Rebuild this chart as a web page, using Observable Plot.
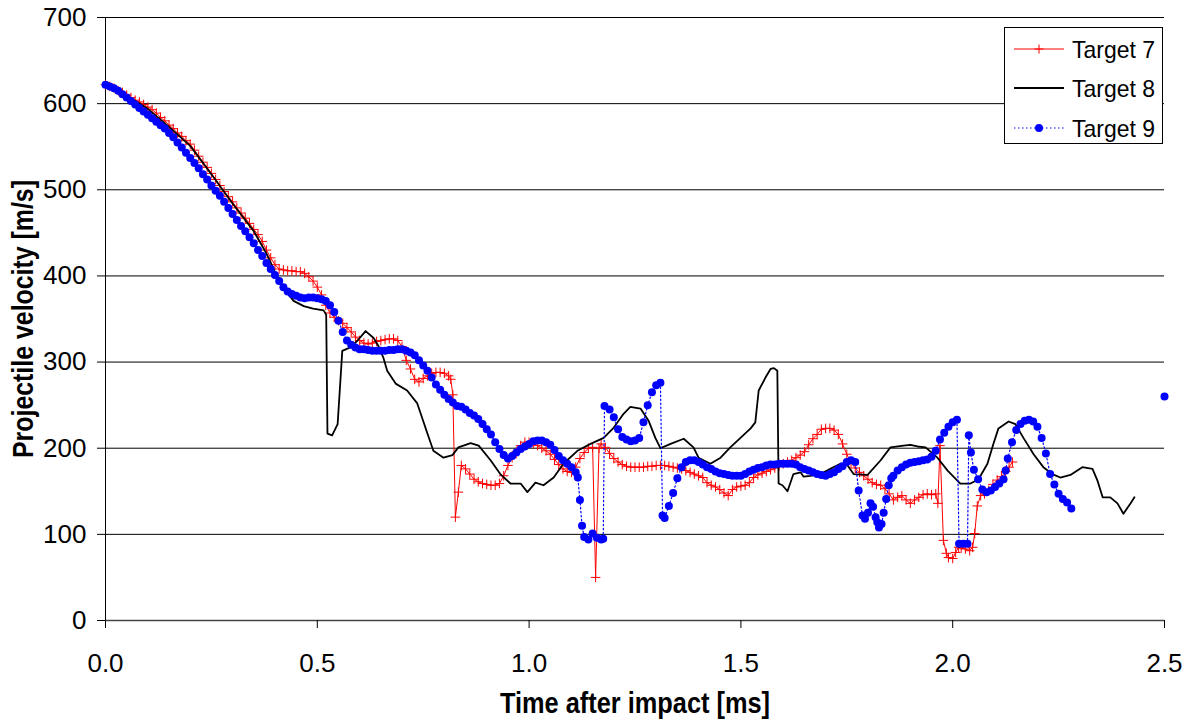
<!DOCTYPE html>
<html>
<head>
<meta charset="utf-8">
<script src="https://cdn.jsdelivr.net/npm/d3@7"></script>
<script src="https://cdn.jsdelivr.net/npm/@observablehq/plot@0.6"></script>
<style>
  html, body { margin: 0; padding: 0; background: #fff; }
  #wrap { position: relative; width: 1190px; height: 725px; }
  #chart svg { font-family: "Liberation Sans", Arial, sans-serif; }
  #chart g[aria-label="y-axis tick label"] text,
  #chart g[aria-label="x-axis tick label"] text { font-size: 26px; fill: #000; }
  #chart g[aria-label="y-axis label"] text,
  #chart g[aria-label="x-axis label"] text { font-size: 29px; font-weight: bold; fill: #000; }
  #legend { position: absolute; left: 1004px; top: 27px; width: 157px; height: 115px; border: 1px solid #000; background: #fff; }
  #legend text { font-family: "Liberation Sans", Arial, sans-serif; font-size: 24px; }
</style>
</head>
<body>
<div id="wrap">
  <div id="chart"></div>
  <div id="legend"></div>
</div>
<script>
// ---- Data ----
const xTicks = [0, 0.5, 1.0, 1.5, 2.0, 2.5];
const yTicks = [0, 100, 200, 300, 400, 500, 600, 700];
const seriesNames = ["Target 7", "Target 8", "Target 9"];

// Target 7 (red, + markers)
const t7 = [0,0.01,0.02,0.03,0.04,0.05,0.06,0.07,0.08,0.09,0.10,0.11,0.12,0.13,0.14,0.15,0.16,0.17,0.18,0.19,
0.20,0.21,0.22,0.23,0.24,0.25,0.26,0.27,0.28,0.29,0.30,0.31,0.32,0.33,0.34,0.35,0.36,0.37,0.38,0.39,
0.40,0.41,0.42,0.43,0.44,0.45,0.46,0.47,0.48,0.49,0.50,0.51,0.52,0.53,0.54,0.55,0.56,0.57,0.58,0.59,
0.60,0.61,0.62,0.63,0.64,0.65,0.66,0.67,0.68,0.69,0.70,0.71,0.72,0.73,0.74,0.75,0.76,0.77,0.78,0.79,
0.80,0.81,0.815,0.82,0.826,0.833,0.84,0.85,0.86,0.87,0.88,0.89,0.90,0.91,0.92,0.93,0.94,0.95,0.96,0.97,
0.98,0.99,1.00,1.01,1.02,1.03,1.04,1.05,1.06,1.07,1.08,1.09,1.10,1.11,1.12,1.13,1.14,1.15,1.157,1.165,
1.17,1.18,1.19,1.20,1.21,1.22,1.23,1.24,1.25,1.26,1.27,1.28,1.29,1.30,1.31,1.32,1.33,1.34,1.35,1.36,
1.37,1.38,1.39,1.40,1.41,1.42,1.43,1.44,1.45,1.46,1.47,1.48,1.49,1.50,1.51,1.52,1.53,1.54,1.55,1.56,
1.57,1.58,1.59,1.60,1.61,1.62,1.63,1.64,1.65,1.66,1.67,1.68,1.69,1.70,1.71,1.72,1.73,1.74,1.75,1.76,
1.77,1.78,1.79,1.80,1.81,1.82,1.83,1.84,1.85,1.86,1.87,1.88,1.89,1.90,1.91,1.92,1.93,1.94,1.95,1.96,
1.965,1.97,1.978,1.985,1.99,2.00,2.007,2.014,2.02,2.03,2.04,2.047,2.052,2.058,2.066,2.075,2.085,2.095,2.105,2.115,
2.125,2.133,2.141];
const v7 = [622,620,618,615,613,610,607,604,602,599,596,593,589,584,580,575,571,566,562,557,
553,546,539,532,526,519,512,505,498,492,486,479,473,467,461,454,448,440,430,421,
413,408,407,406,406,405,405,403,399,394,387,378,366,357,352,348,345,340,335,329,
325,322,321,322,324,325,326,327,327,325,318,302,292,280,277,281,284,287,288,288,
287,284,280,262,120,149,180,176,170,164,161,159,158,157,157,159,168,180,189,196,
203,207,207,205,203,200,197,193,187,181,176,173,172,178,188,195,200,201,50,200,
205,201,194,188,184,181,179,178,178,178,178,179,179,180,180,180,179,178,177,176,
174,172,170,168,166,160,157,155,152,148,145,152,155,156,157,160,166,169,171,173,
175,177,179,182,184,186,189,192,196,204,211,216,222,223,223,221,216,205,193,183,
177,172,168,164,160,158,157,153,147,140,143,145,140,136,140,143,146,147,146,147,
136,203,93,78,73,72,79,85,84,83,81,85,101,133,145,147,151,158,163,167,
173,178,184];

// Target 8 (black line)
const t8 = [0,0.05,0.10,0.15,0.20,0.25,0.30,0.35,0.38,0.413,0.444,0.468,0.49,0.515,0.521,0.524,0.535,0.548,0.559,0.578,
0.595,0.614,0.633,0.645,0.656,0.665,0.685,0.712,0.736,0.76,0.774,0.798,0.819,0.833,0.862,0.881,0.909,0.932,0.956,0.98,
0.996,1.015,1.034,1.058,1.081,1.114,1.145,1.176,1.20,1.223,1.239,1.263,1.282,1.298,1.31,1.334,1.365,1.388,1.40,1.428,
1.452,1.475,1.499,1.523,1.534,1.542,1.558,1.57,1.578,1.586,1.589,1.598,1.61,1.624,1.641,1.648,1.664,1.688,1.711,1.735,
1.752,1.766,1.799,1.83,1.853,1.884,1.90,1.917,1.936,1.964,1.988,2.018,2.042,2.061,2.082,2.096,2.108,2.132,2.148,2.167,
2.191,2.214,2.235,2.254,2.278,2.306,2.33,2.342,2.354,2.372,2.389,2.403,2.42,2.429];
const v8 = [622,609,594,573,551,518,484,452,426,391,371,365,362,360,355,217,215,228,313,317,
325,336,328,318,305,290,275,267,252,217,197,189,192,201,206,203,186,170,159,159,
149,160,157,166,182,197,205,212,224,240,248,246,232,212,200,205,211,201,189,182,
189,201,212,223,230,267,282,292,293,290,159,157,150,170,172,167,168,170,176,182,
180,170,169,186,201,203,204,202,201,189,174,159,159,164,182,205,223,231,228,212,
193,178,170,166,169,178,176,162,143,143,136,124,136,143];

// Target 9 (blue, dotted line with dots)
const t9 = [0,0.01,0.02,0.03,0.04,0.05,0.06,0.07,0.08,0.09,0.10,0.11,0.12,0.13,0.14,0.15,0.16,0.17,0.18,0.19,
0.20,0.21,0.22,0.23,0.24,0.25,0.26,0.27,0.28,0.29,0.30,0.31,0.32,0.33,0.34,0.35,0.36,0.37,0.38,0.39,
0.40,0.41,0.42,0.43,0.44,0.45,0.46,0.47,0.48,0.49,0.50,0.51,0.52,0.53,0.54,0.55,0.56,0.57,0.58,0.59,
0.60,0.61,0.62,0.63,0.64,0.65,0.66,0.67,0.68,0.69,0.70,0.71,0.72,0.73,0.74,0.75,0.76,0.77,0.78,0.79,
0.80,0.81,0.82,0.83,0.84,0.85,0.86,0.87,0.88,0.89,0.90,0.91,0.92,0.93,0.94,0.95,0.96,0.97,0.98,0.99,
1.00,1.01,1.02,1.03,1.04,1.05,1.06,1.07,1.08,1.09,1.10,1.11,1.115,1.12,1.125,1.13,1.14,1.15,1.16,1.17,
1.175,1.178,1.19,1.20,1.21,1.22,1.23,1.24,1.25,1.26,1.27,1.28,1.29,1.30,1.31,1.315,1.32,1.33,1.34,1.35,
1.36,1.37,1.38,1.39,1.40,1.41,1.42,1.43,1.44,1.45,1.46,1.47,1.48,1.49,1.50,1.51,1.52,1.53,1.54,1.55,
1.56,1.57,1.58,1.59,1.60,1.61,1.62,1.63,1.64,1.65,1.66,1.67,1.68,1.69,1.70,1.71,1.72,1.73,1.74,1.75,
1.76,1.77,1.778,1.787,1.793,1.80,1.806,1.812,1.818,1.822,1.826,1.832,1.837,1.843,1.849,1.855,1.86,1.87,1.88,1.89,
1.90,1.91,1.92,1.93,1.94,1.95,1.96,1.97,1.98,1.99,2.00,2.01,2.015,2.025,2.035,2.038,2.043,2.05,2.06,2.07,
2.08,2.09,2.10,2.11,2.12,2.125,2.13,2.14,2.15,2.16,2.17,2.18,2.19,2.20,2.21,2.22,2.23,2.24,2.25,2.26,
2.27,2.28];
const v9 = [622,620,618,615,611,607,603,599,595,591,587,583,579,575,571,566,561,555,549,543,
537,531,525,518,512,505,499,493,486,479,472,465,458,452,445,438,430,423,415,408,
401,394,387,382,379,377,375,374,375,375,374,373,371,366,358,348,335,325,320,317,
315,315,314,313,313,313,313,314,314,315,315,313,311,308,302,296,290,282,274,268,
262,257,253,249,248,245,241,238,234,228,222,216,207,199,192,188,191,195,199,202,
205,208,209,209,207,204,198,191,186,182,178,172,166,140,110,97,94,101,96,94,
95,249,245,236,222,213,210,208,209,212,230,250,265,273,276,122,119,133,148,165,
178,184,186,186,184,181,178,176,173,171,170,169,168,168,168,170,173,175,177,178,
180,181,181,182,182,182,182,181,178,176,174,172,170,169,168,170,172,176,179,184,
186,184,151,122,118,125,136,132,120,114,108,112,125,141,157,165,168,174,178,181,
183,184,185,186,187,190,197,210,218,225,230,233,89,89,89,215,195,175,164,152,
149,151,155,159,164,174,188,207,221,228,232,233,231,225,212,194,170,158,147,141,
137,130];
// isolated Target 9 point at the right edge
const t9Extra = [2.5];
const v9Extra = [260];

// ---- Chart ----
const colors = {t7: "#ff0000", t8: "#000000", t9: "#0000ff"};

// thin "+" marker
const plusSymbol = {
  draw(context, size) {
    const r = Math.sqrt(size / Math.PI);
    context.moveTo(-r, 0); context.lineTo(r, 0);
    context.moveTo(0, -r); context.lineTo(0, r);
  }
};

const rows7 = t7.map((t, i) => ({t, v: v7[i]}));
const rows8 = t8.map((t, i) => ({t, v: v8[i]}));
const rows9 = t9.map((t, i) => ({t, v: v9[i]}));
const rows9x = t9Extra.map((t, i) => ({t, v: v9Extra[i]}));

const chart = Plot.plot({
  width: 1190,
  height: 725,
  marginLeft: 105,
  marginRight: 26,
  marginTop: 17,
  marginBottom: 105,
  style: {background: "#fff", color: "#000"},
  x: {domain: [0, 2.5]},
  y: {domain: [0, 700]},
  marks: [
    Plot.gridY(yTicks, {stroke: "#000", strokeOpacity: 1, strokeWidth: 1}),
    Plot.ruleX([0], {stroke: "#000", strokeWidth: 1}),
    Plot.ruleY([0], {stroke: "#444", strokeWidth: 1.3}),
    Plot.axisY({ticks: yTicks, tickSize: 8, tickPadding: 11, label: "Projectile velocity [m/s]", labelAnchor: "center", labelArrow: "none", labelOffset: 93}),
    Plot.axisX({ticks: xTicks, tickFormat: d3.format(".1f"), tickSize: 8, tickPadding: 25, label: "Time after impact [ms]", labelAnchor: "center", labelArrow: "none", labelOffset: 92}),
    // Target 7
    Plot.line(rows7, {x: "t", y: "v", stroke: colors.t7, strokeWidth: 1}),
    Plot.dot(rows7, {x: "t", y: "v", symbol: plusSymbol, r: 4.8, stroke: colors.t7, fill: "none", strokeWidth: 1}),
    // Target 8
    Plot.line(rows8, {x: "t", y: "v", stroke: colors.t8, strokeWidth: 1.8}),
    // Target 9
    Plot.line(rows9, {x: "t", y: "v", stroke: colors.t9, strokeWidth: 1.2, strokeDasharray: "1.5,2.5"}),
    Plot.dot(rows9, {x: "t", y: "v", r: 4, fill: colors.t9, stroke: "none"}),
    Plot.dot(rows9x, {x: "t", y: "v", r: 4, fill: colors.t9, stroke: "none"})
  ]
});
document.getElementById("chart").appendChild(chart);

// Axis titles: strip any arrow and condense to the reference width
const titleLengths = {"x-axis label": 270, "y-axis label": 278};
Object.entries(titleLengths).forEach(([key, len]) => {
  d3.select(chart).selectAll(`g[aria-label="${key}"] text`).each(function() {
    const el = d3.select(this);
    el.text(el.text().replace(/[\u2190-\u2193]/g, "").trim());
    el.attr("textLength", len).attr("lengthAdjust", "spacingAndGlyphs");
  });
});

// ---- Legend ----
const legend = d3.select("#legend").append("svg").attr("width", 157).attr("height", 115);
const rowsY = [21, 60, 100];
const styles = [
  {color: colors.t7, dash: null, w: 1, marker: "plus"},
  {color: colors.t8, dash: null, w: 1.8, marker: null},
  {color: colors.t9, dash: "1.5,2.5", w: 1.2, marker: "dot"}
];
seriesNames.forEach((name, i) => {
  const y = rowsY[i], s = styles[i];
  legend.append("line").attr("x1", 9).attr("x2", 59).attr("y1", y).attr("y2", y)
    .attr("stroke", s.color).attr("stroke-width", s.w).attr("stroke-dasharray", s.dash);
  if (s.marker === "plus") {
    legend.append("path").attr("d", `M${34-4.5},${y}H${34+4.5}M34,${y-4.5}V${y+4.5}`).attr("stroke", s.color).attr("fill", "none");
  } else if (s.marker === "dot") {
    legend.append("circle").attr("cx", 34).attr("cy", y).attr("r", 4).attr("fill", s.color);
  }
  legend.append("text").attr("x", 67).attr("y", y).attr("dy", "0.36em").attr("fill", "#000")
    .attr("textLength", 83).attr("lengthAdjust", "spacingAndGlyphs").text(name);
});
</script>
</body>
</html>
